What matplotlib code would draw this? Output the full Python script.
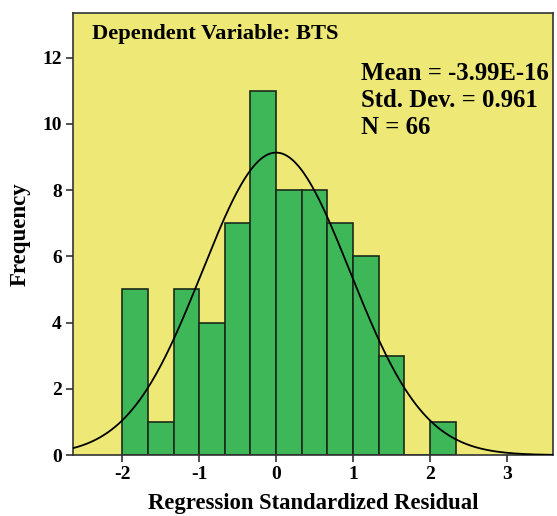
import numpy as np
import matplotlib
matplotlib.use("Agg")
import matplotlib.pyplot as plt

# histogram of standardized residuals, bin width 1/3
bin_edges = [-2.0, -5/3, -4/3, -1.0, -2/3, -1/3, 0.0, 1/3, 2/3, 1.0, 4/3, 5/3, 2.0, 7/3]
counts = [5, 1, 5, 4, 7, 11, 8, 8, 7, 6, 3, 0, 1]
mean_res = -3.99e-16
std_res = 0.961
n_obs = 66
xticks = [-2, -1, 0, 1, 2, 3]
yticks = [0, 2, 4, 6, 8, 10, 12]

plt.rcParams['font.family'] = ['Liberation Serif', 'DejaVu Serif']
plt.rcParams['font.weight'] = 'bold'
plt.rcParams['axes.unicode_minus'] = False

fig = plt.figure(figsize=(5.57, 5.16), dpi=100)
ax = fig.add_axes([0.131, 0.118, 0.862, 0.857])
ax.set_facecolor('#EEE877')

lefts = np.array(bin_edges[:-1])
widths = np.diff(bin_edges)
ax.bar(lefts, counts, width=widths, align='edge', color='#3DB757',
       edgecolor='#1a2a1a', linewidth=1.2, zorder=2)

# fitted normal curve scaled to counts
bw = widths[0]
xs = np.linspace(-2.64, 3.6, 400)
ys = n_obs * bw * np.exp(-0.5 * ((xs - mean_res) / std_res) ** 2) / (std_res * np.sqrt(2 * np.pi))
ax.plot(xs, ys, color='black', linewidth=1.3, zorder=3)

ax.set_xlim(-2.64, 3.6)
ax.set_ylim(0, 13.35)
ax.set_xticks(xticks)
ax.set_yticks(yticks)
ax.tick_params(labelsize=14, length=5, width=1.2, direction='out', color='#333333', pad=3)
for lab in ax.get_xticklabels() + ax.get_yticklabels():
    lab.set_fontweight('bold')
for sp in ax.spines.values():
    sp.set_linewidth(1.2)
    sp.set_color('#333333')

ax.set_xlabel('Regression Standardized Residual', fontsize=16.3, fontweight='bold', labelpad=7)
ax.set_ylabel('Frequency', fontsize=16.5, fontweight='bold', labelpad=8)

ax.text(0.04, 0.975, 'Dependent Variable: BTS', transform=ax.transAxes,
        fontsize=16.2, fontweight='bold', va='top', ha='left')
ax.text(0.60, 0.888, 'Mean = -3.99E-16\nStd. Dev. = 0.961\nN = 66',
        transform=ax.transAxes, fontsize=17.8, fontweight='bold',
        va='top', ha='left', linespacing=1.2)

fig.savefig('out.png', dpi=100)
